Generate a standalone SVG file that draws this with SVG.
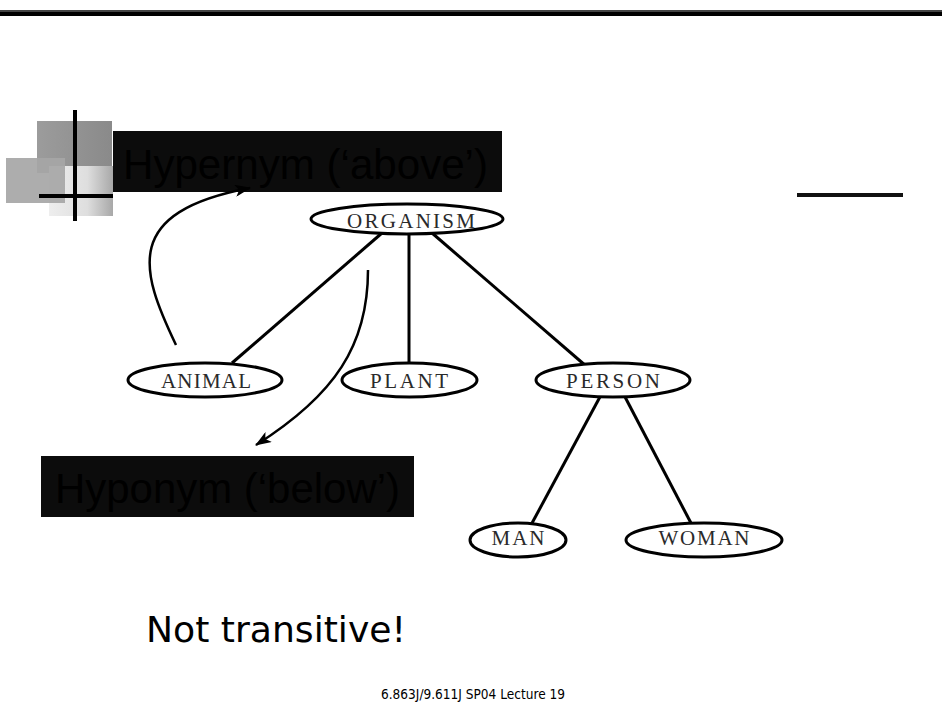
<svg xmlns="http://www.w3.org/2000/svg" width="942" height="718" viewBox="0 0 942 718">
<style>
.node ellipse{fill:#fff;stroke:#000;stroke-width:3}
.node text{font-family:"Liberation Serif","DejaVu Serif",serif;font-size:21px;fill:#2a2a2a;text-anchor:middle}
.edge{stroke:#000;stroke-width:3;fill:none}
.curve{stroke:#000;stroke-width:2.5;fill:none;marker-end:url(#arr)}
.title{font-family:"Liberation Sans",Arial,sans-serif;font-size:43px;fill:#000}
.box{fill:#0c0c0c}
</style>
<defs>
<marker id="arr" viewBox="0 0 16 12" refX="15" refY="6" markerWidth="16" markerHeight="12" markerUnits="userSpaceOnUse" orient="auto">
<path d="M0,0 L16,6 L0,12 L4,6 Z" fill="#000"/>
</marker>
<linearGradient id="gDark" x1="0" x2="1" y1="0" y2="0"><stop offset="0" stop-color="#9c9c9c"/><stop offset="1" stop-color="#8a8a8a"/></linearGradient>
<linearGradient id="gLight" x1="0" x2="1" y1="0" y2="0"><stop offset="0" stop-color="#eeeeee"/><stop offset="0.6" stop-color="#dedede"/><stop offset="1" stop-color="#a8a8a8"/></linearGradient>
</defs>
<rect width="942" height="718" fill="#fff"/>
<rect x="0" y="10" width="942" height="2" fill="#444"/>
<rect x="0" y="12" width="942" height="4" fill="#000"/>
<g id="decor">
<rect x="37" y="121" width="75" height="52" fill="url(#gDark)"/>
<rect x="49" y="166" width="64" height="50" fill="url(#gLight)"/>
<rect x="6" y="158" width="59" height="45" fill="#a6a6a6" opacity="0.92"/>
<rect x="73" y="110" width="4" height="111" fill="#000"/>
<rect x="39" y="194" width="74" height="4" fill="#000"/>
<rect x="797" y="193" width="106" height="4" fill="#111"/>
</g>
<g id="hypernym">
<rect class="box" x="113" y="131" width="389" height="61"/>
<text class="title" x="123" y="179" textLength="365" lengthAdjust="spacingAndGlyphs">Hypernym (‘above’)</text>
</g>
<g id="hyponym">
<rect class="box" x="41" y="456" width="373" height="61"/>
<text class="title" x="55" y="503" textLength="345" lengthAdjust="spacingAndGlyphs">Hyponym (‘below’)</text>
</g>
<g id="connectors">
<line class="edge" x1="382" y1="233" x2="232" y2="363"/>
<line class="edge" x1="409" y1="233" x2="409" y2="365"/>
<line class="edge" x1="432" y1="233" x2="586" y2="366"/>
<line class="edge" x1="601" y1="395" x2="531" y2="525"/>
<line class="edge" x1="624" y1="395" x2="692" y2="525"/>
<path class="curve" d="M176,345 C140,270 122,212 250,188"/>
<path class="curve" d="M368,270 C368,345 335,395 256,445"/>
</g>
<g id="organism" class="node"><ellipse cx="407" cy="219" rx="96" ry="15"/><text x="411" y="228" textLength="128" lengthAdjust="spacing">ORGANISM</text></g>
<g id="animal" class="node"><ellipse cx="205" cy="380" rx="77" ry="17"/><text x="206" y="388" textLength="90" lengthAdjust="spacing">ANIMAL</text></g>
<g id="plant" class="node"><ellipse cx="409.5" cy="380" rx="67.5" ry="17"/><text x="409" y="388" textLength="78" lengthAdjust="spacing">PLANT</text></g>
<g id="person" class="node"><ellipse cx="613" cy="380" rx="77" ry="17"/><text x="613" y="388" textLength="94" lengthAdjust="spacing">PERSON</text></g>
<g id="man" class="node"><ellipse cx="518" cy="540" rx="48" ry="17"/><text x="518" y="545" textLength="53" lengthAdjust="spacing">MAN</text></g>
<g id="woman" class="node"><ellipse cx="704" cy="540" rx="78" ry="17"/><text x="704" y="545" textLength="91" lengthAdjust="spacing">WOMAN</text></g>
<text x="146" y="642" font-family="DejaVu Sans,Verdana,sans-serif" font-size="36" fill="#000" textLength="260" lengthAdjust="spacingAndGlyphs">Not transitive!</text>
<text x="381" y="699" font-family="DejaVu Sans,Verdana,sans-serif" font-size="13.5" fill="#000" textLength="184" lengthAdjust="spacingAndGlyphs">6.863J/9.611J SP04 Lecture 19</text>
</svg>
